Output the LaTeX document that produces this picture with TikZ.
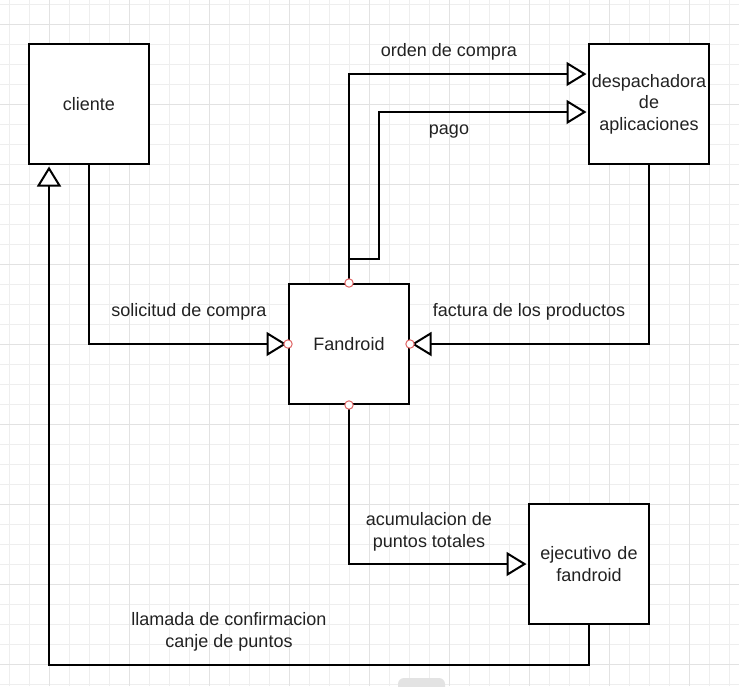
\documentclass[tikz,border=0pt]{standalone}
\usepackage{fontspec}
\setmainfont{Liberation Sans}
\usetikzlibrary{arrows.meta,positioning}

\definecolor{gridminor}{HTML}{EEEEEE}
\definecolor{gridmajor}{HTML}{E2E2E2}
\definecolor{portred}{HTML}{E06666}
\definecolor{txt}{HTML}{222222}

\tikzset{
  box/.style={draw, line width=2pt, fill=white, minimum width=120pt, minimum height=120pt,
    inner sep=0pt, text width=116pt, align=center, text=txt},
  lbl/.style={align=center, text=txt, inner sep=0pt},
  conn/.style={line width=2pt, -{Triangle[fill=white, length=20pt, width=24pt]}, shorten >=1.5pt},
  port/.style={draw=portred, fill=white, line width=1pt}
}

\begin{document}
\begin{tikzpicture}[x=1pt, y=-1pt, font=\fontsize{18}{21.6}\selectfont]
  \useasboundingbox (0,0) rectangle (739,686);
  \fill[white] (0,0) rectangle (739,686);
  % background grid
  \foreach \x in {9,29,...,729} \draw[gridminor, line width=0.8pt] (\x,0) -- (\x,686);
  \foreach \y in {4,24,...,684} \draw[gridminor, line width=0.8pt] (0,\y) -- (739,\y);
  \foreach \x in {49,129,...,729} \draw[gridmajor, line width=0.8pt] (\x,0) -- (\x,686);
  \foreach \y in {24,104,...,684} \draw[gridmajor, line width=0.8pt] (0,\y) -- (739,\y);

  \node[box] (cliente) at (89,104) {cliente};
  \node[box] (fandroid) at (349,344) {Fandroid};
  \node[box] (desp) at (649,104) {despachadora\\de\\aplicaciones};
  \node[box] (ejec) at (589,564) {ejecutivo de\\fandroid};

  \draw[conn] (cliente.south) |- (fandroid.west);
  \draw[conn] (fandroid.north) |- ([yshift=30pt]desp.west);
  \draw[conn] (fandroid.north) -- ++(0,-24) -- ++(30,0) |- ([yshift=-8pt]desp.west);
  \draw[conn] (desp.south) |- (fandroid.east);
  \draw[conn] (fandroid.south) |- (ejec.west);
  \draw[conn] (ejec.south) -- ++(0,40) -| ([xshift=-40pt]cliente.south);

  \foreach \a in {north,south,east,west}
    \draw[port] (fandroid.\a) circle [radius=4.2pt];

  \node[lbl] (ordenlbl) at (449,52) {orden de compra};
  \node[lbl] (pagolbl) at (449,132) {pago};
  \node[lbl] (solicitudlbl) at (189,312) {solicitud de compra};
  \node[lbl] (facturalbl) at (529,312) {factura de los productos};
  \node[lbl] (acumlbl) at (429,532) {acumulacion de\\puntos totales};
  \node[lbl] (llamadalbl) at (229,632) {llamada de confirmacion\\canje de puntos};

  % scroll handle at the bottom edge
  \fill[gray!22, rounded corners=6pt] (398,678) rectangle (445,696);
\end{tikzpicture}
\end{document}
